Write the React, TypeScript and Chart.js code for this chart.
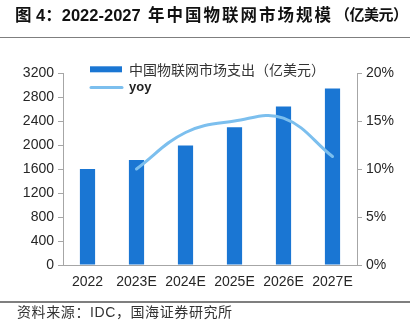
import React, { useEffect, useRef } from "react";
import { Chart, registerables } from "chart.js";

Chart.register(...registerables);

const categories = ["2022", "2023E", "2024E", "2025E", "2026E", "2027E"];
const spending = [1600, 1750, 1990, 2295, 2640, 2940];
const yoy = [null, 10.0, 13.8, 15.0, 15.3, 11.3];
const leftMax = 3200;
const leftStep = 400;
const rightMax = 20;
const rightStep = 5;
const barLabel = "中国物联网市场支出（亿美元）";
const lineLabel = "yoy";
const titleHead = "图 4：2022-2027";
const titleMain = "年中国物联网市场规模";
const titleUnit = "（亿美元）";
const sourceText = "资料来源：IDC，国海证券研究所";

const BAR_COLOR = "#1a76d3";
const LINE_COLOR = "#7cbfee";
const AXIS_COLOR = "#a6a6a6";
const TICK_COLOR = "#262626";

const insideLegend = {
  id: "insideLegend",
  afterDraw(chart: any) {
    const { ctx, chartArea } = chart;
    const ds = chart.data.datasets;
    const x0 = chartArea.left + 27;
    const top = chartArea.top;
    ctx.save();
    ctx.fillStyle = ds[0].backgroundColor;
    ctx.fillRect(x0, top - 6.7, 32, 6);
    ctx.fillStyle = "#333333";
    ctx.textBaseline = "middle";
    ctx.textAlign = "left";
    ctx.font = '14px "Noto Sans CJK SC", sans-serif';
    ctx.fillText(ds[0].label, x0 + 39, top - 3.2);
    ctx.strokeStyle = ds[1].borderColor;
    ctx.lineWidth = 3;
    ctx.lineCap = "round";
    ctx.beginPath();
    ctx.moveTo(x0 + 1, top + 14.6);
    ctx.lineTo(x0 + 32, top + 14.6);
    ctx.stroke();
    ctx.fillStyle = "#222222";
    ctx.font = 'bold 13px "Liberation Sans", Arial, sans-serif';
    ctx.fillText(ds[1].label, x0 + 39, top + 14);
    ctx.restore();
  },
};

export default function App() {
  const canvasRef = useRef<HTMLCanvasElement | null>(null);

  useEffect(() => {
    const canvas = canvasRef.current;
    if (!canvas) return;
    const tickFont = { family: '"Liberation Sans", Arial, sans-serif', size: 14 };
    const chart = new Chart(canvas, {
      type: "bar",
      data: {
        labels: categories,
        datasets: [
          {
            type: "bar",
            label: barLabel,
            data: spending,
            backgroundColor: BAR_COLOR,
            borderWidth: 0,
            yAxisID: "y",
            categoryPercentage: 1,
            barPercentage: 0.31,
            order: 2,
          } as any,
          {
            type: "line",
            label: lineLabel,
            data: yoy,
            borderColor: LINE_COLOR,
            backgroundColor: LINE_COLOR,
            borderWidth: 3,
            borderCapStyle: "round",
            pointRadius: 0,
            pointHoverRadius: 0,
            tension: 0.4,
            fill: false,
            yAxisID: "y1",
            order: 1,
          } as any,
        ],
      },
      options: {
        responsive: false,
        animation: false,
        events: [],
        layout: { padding: { top: 73, bottom: 32, left: 0, right: 0 } },
        plugins: {
          legend: { display: false },
          title: { display: false },
          tooltip: { enabled: false },
        },
        scales: {
          x: {
            grid: { display: false, drawTicks: false },
            border: { display: true, color: AXIS_COLOR, width: 1 },
            ticks: { color: TICK_COLOR, font: tickFont, padding: 9, maxRotation: 0 },
            afterFit: (s: any) => {
              s.height = 30;
            },
          },
          y: {
            position: "left",
            min: 0,
            max: leftMax,
            grid: {
              display: true,
              drawOnChartArea: false,
              drawTicks: true,
              tickLength: 5,
              color: AXIS_COLOR,
            },
            border: { display: true, color: AXIS_COLOR, width: 1 },
            ticks: {
              stepSize: leftStep,
              color: TICK_COLOR,
              font: tickFont,
              padding: 4,
              callback: (v: any) => String(v),
            },
            afterFit: (s: any) => {
              s.width = 63;
            },
          },
          y1: {
            position: "right",
            min: 0,
            max: rightMax,
            grid: {
              display: true,
              drawOnChartArea: false,
              drawTicks: true,
              tickLength: 5,
              color: AXIS_COLOR,
            },
            border: { display: true, color: AXIS_COLOR, width: 1 },
            ticks: {
              stepSize: rightStep,
              color: TICK_COLOR,
              font: tickFont,
              padding: 4,
              callback: (v: any) => `${v}%`,
            },
            afterFit: (s: any) => {
              s.width = 56;
            },
          },
        },
      },
      plugins: [insideLegend],
    });
    return () => chart.destroy();
  }, []);

  const cjk = '"Liberation Sans", "Noto Sans CJK SC", Arial, sans-serif';

  return (
    <div
      style={{
        position: "absolute",
        left: 0,
        top: 0,
        width: 413,
        height: 327,
        background: "#ffffff",
        overflow: "hidden",
      }}
    >
      <canvas
        ref={canvasRef}
        width={413}
        height={327}
        style={{ position: "absolute", left: 0, top: 0, width: 413, height: 327 }}
      />
      <div
        style={{
          position: "absolute",
          left: 15,
          top: 5,
          height: 20,
          lineHeight: "20px",
          fontFamily: cjk,
          fontWeight: "bold",
          fontSize: 16.5,
          color: "#111",
          whiteSpace: "nowrap",
        }}
      >
        {titleHead}
      </div>
      <div
        style={{
          position: "absolute",
          left: 148,
          top: 5,
          height: 20,
          lineHeight: "20px",
          fontFamily: cjk,
          fontWeight: "bold",
          fontSize: 16.5,
          letterSpacing: 2,
          color: "#111",
          whiteSpace: "nowrap",
        }}
      >
        {titleMain}
      </div>
      <div
        style={{
          position: "absolute",
          left: 335,
          top: 5,
          height: 20,
          lineHeight: "20px",
          fontFamily: cjk,
          fontWeight: "bold",
          fontSize: 15,
          letterSpacing: -0.5,
          color: "#111",
          whiteSpace: "nowrap",
        }}
      >
        {titleUnit}
      </div>
      <div
        style={{
          position: "absolute",
          left: 0,
          top: 36.5,
          width: 410,
          height: 1.5,
          background: "#7f7f7f",
        }}
      />
      <div
        style={{
          position: "absolute",
          left: 0,
          top: 301,
          width: 410,
          height: 1.5,
          background: "#7f7f7f",
        }}
      />
      <div
        style={{
          position: "absolute",
          left: 17,
          top: 302,
          height: 20,
          lineHeight: "20px",
          fontFamily: cjk,
          fontSize: 14,
          letterSpacing: 0.6,
          color: "#333",
          whiteSpace: "nowrap",
        }}
      >
        {sourceText}
      </div>
    </div>
  );
}
